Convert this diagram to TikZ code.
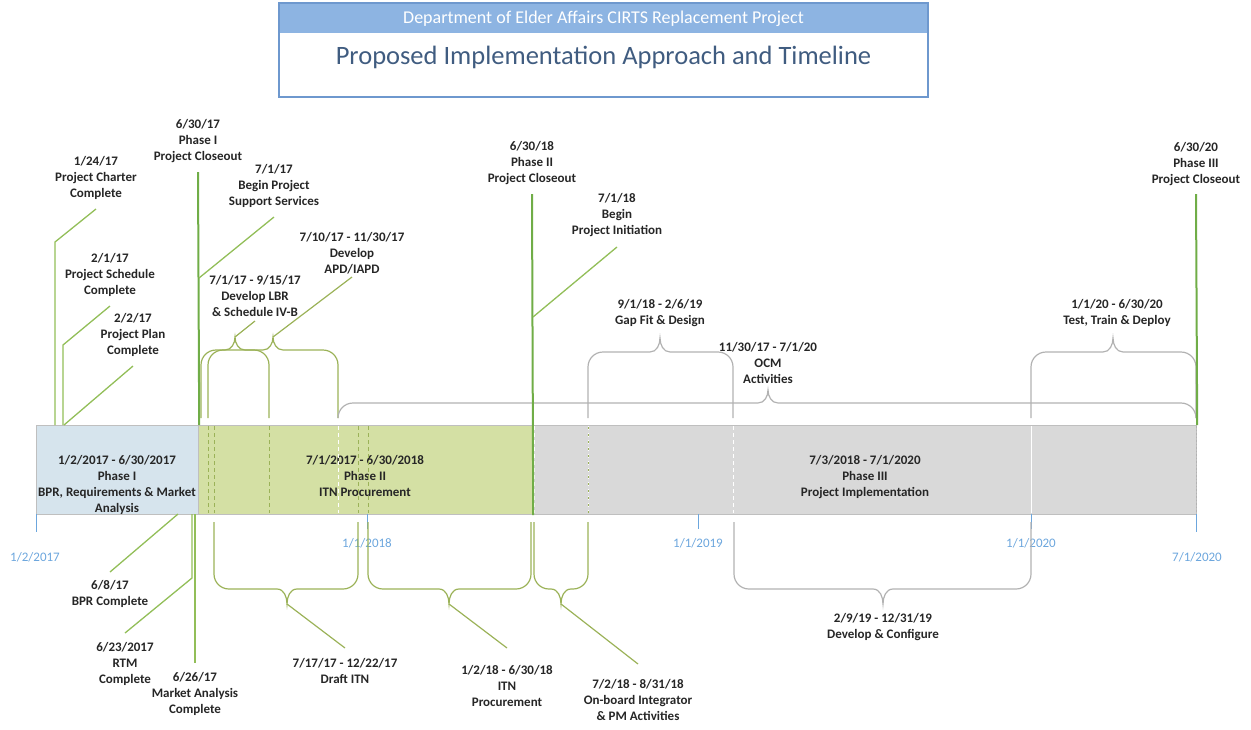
\documentclass[tikz,border=0pt]{standalone}
\usepackage{fontspec}
\setmainfont{Carlito}
\usetikzlibrary{positioning}
\definecolor{calloutgreen}{RGB}{146,190,88}
\definecolor{closegreen}{RGB}{112,173,71}
\definecolor{bracegreen}{RGB}{155,178,88}
\definecolor{bracegray}{RGB}{178,178,178}
\definecolor{phaseblue}{RGB}{214,228,237}
\definecolor{phasegreen}{RGB}{212,224,164}
\definecolor{phasegray}{RGB}{217,217,217}
\definecolor{edgegray}{RGB}{191,191,191}
\definecolor{axisblue}{RGB}{108,166,221}
\definecolor{headblue}{RGB}{141,180,226}
\definecolor{frameblue}{RGB}{110,152,206}
\definecolor{titleblue}{RGB}{64,92,128}

\begin{document}
\begin{tikzpicture}[
    x=1pt,y=-1pt,
    lbl/.style={align=center,inner sep=0pt,font=\fontsize{13}{16}\selectfont\bfseries,text=black!85},
    phasebox/.style={rectangle,draw=edgegray,line width=1.2pt,minimum height=89pt,inner sep=0pt,anchor=north west},
    axislbl/.style={inner sep=0pt,font=\fontsize{13}{16}\selectfont,text=axisblue},
    axtick/.style={axisblue,line width=1pt},
    callout/.style={calloutgreen,line width=1.3pt},
    bcallout/.style={bracegreen,line width=1.2pt},
    closeout/.style={closegreen,line width=2pt},
    gbrace/.style={bracegreen,line width=1.2pt},
    sbrace/.style={bracegray,line width=1.2pt},
    gsplit/.style={bracegreen,line width=1pt,dash pattern=on 4pt off 3pt},
    wsplit/.style={white,line width=1pt,dash pattern=on 4pt off 3pt}
]
    \useasboundingbox (0,0) rectangle (1251,729);

    \node[rectangle,fill=headblue,inner sep=0pt,minimum width=647pt,minimum height=29pt,text=white,font=\fontsize{18}{20}\selectfont] (head) at (603.5,18.5) {Department of Elder Affairs CIRTS Replacement Project};
    \node[rectangle,draw=frameblue,line width=2pt,minimum width=649pt,minimum height=94pt] (frame) at (603.5,50) {};
    \node[text=titleblue,font=\fontsize{26.5}{30}\selectfont] (title) at (603.5,57) {Proposed Implementation Approach and Timeline};

    \node[phasebox,fill=phaseblue,minimum width=162pt] (ph1) at (36,425) {};
    \node[phasebox,fill=phasegreen,minimum width=334pt] (ph2) at (198,425) {};
    \node[phasebox,fill=phasegray,minimum width=664pt] (ph3) at (532,425) {};

    \node[lbl,anchor=north] (ph1txt) at (117,455) {1/2/2017 - 6/30/2017\\Phase I\\BPR, Requirements \& Market\\Analysis};
    \node[lbl,anchor=north] (ph2txt) at (365,455) {7/1/2017 - 6/30/2018\\Phase II\\ITN Procurement};
    \node[lbl,anchor=north] (ph3txt) at (865,455) {7/3/2018 - 7/1/2020\\Phase III\\Project Implementation};

    \draw[gsplit] (208,426) -- (208,513);
    \draw[gsplit] (214,426) -- (214,513);
    \draw[gsplit] (269,426) -- (269,513);
    \draw[wsplit] (338,426) -- (338,513);
    \draw[gsplit] (358,426) -- (358,513);
    \draw[gsplit] (368,426) -- (368,513);
    \draw[wsplit] (534,426) -- (534,513);
    \draw[wsplit] (588,426) -- (588,513);
    \draw[bracegreen,line width=1pt,dash pattern=on 1.5pt off 5.5pt] (588,427) -- (588,513);
    \draw[wsplit] (733,426) -- (733,513);
    \draw[white,line width=1pt] (1031,426) -- (1031,513);
    \draw[bracegray,line width=1pt,dash pattern=on 1.5pt off 2pt] (1196,426) -- (1196,513);

    \draw[axtick] (36,514) -- (36,532);
    \draw[axtick] (367,514) -- (367,529);
    \draw[axtick] (698,514) -- (698,529);
    \draw[axtick] (1031,514) -- (1031,529);
    \draw[axtick] (1196,514) -- (1196,532);
    \node[axislbl] (d17) at (35,557) {1/2/2017};
    \node[axislbl] (d18) at (367,543) {1/1/2018};
    \node[axislbl] (d19) at (698,543) {1/1/2019};
    \node[axislbl] (d20) at (1031,543) {1/1/2020};
    \node[axislbl] (d20b) at (1197,557) {7/1/2020};

    \draw[gbrace] (201,418) -- (201,365) to[out=90,in=180] (216,350) -- (225,350) to[out=0,in=-90] (235,337) coordinate (lbr-at) to[out=-90,in=180] (245,350) -- (254,350) to[out=0,in=90] (269,365) -- (269,418);
    \draw[gbrace] (208,418) -- (208,365) to[out=90,in=180] (223,350) -- (263,350) to[out=0,in=-90] (273,337) coordinate (apd-at) to[out=-90,in=180] (283,350) -- (323,350) to[out=0,in=90] (338,365) -- (338,418);
    \draw[sbrace] (338,418) to[out=90,in=180] (353,403) -- (758,403) to[out=0,in=-90] (768,390) coordinate (ocm-at) to[out=-90,in=180] (778,403) -- (1181,403) to[out=0,in=90] (1196,418);
    \draw[sbrace] (588,418) -- (588,367) to[out=90,in=180] (603,352) -- (650,352) to[out=0,in=-90] (660,338) coordinate (gap-at) to[out=-90,in=180] (670,352) -- (718,352) to[out=0,in=90] (733,367) -- (733,418);
    \draw[sbrace] (1031,418) -- (1031,367) to[out=90,in=180] (1046,352) -- (1103,352) to[out=0,in=-90] (1113,338) coordinate (test-at) to[out=-90,in=180] (1123,352) -- (1181,352) to[out=0,in=90] (1196,367) -- (1196,418);

    \draw[gbrace] (214,522) -- (214,574) to[out=-90,in=180] (229,589) -- (277,589) to[out=0,in=90] (287,604) coordinate (draft-at) to[out=90,in=180] (297,589) -- (343,589) to[out=0,in=-90] (358,574) -- (358,522);
    \draw[gbrace] (368,522) -- (368,574) to[out=-90,in=180] (383,589) -- (439,589) to[out=0,in=90] (449,604) coordinate (itn-at) to[out=90,in=180] (459,589) -- (516,589) to[out=0,in=-90] (531,574) -- (531,522);
    \draw[gbrace] (534,522) -- (534,574) to[out=-90,in=180] (549,589) -- (551,589) to[out=0,in=90] (561,604) coordinate (onb-at) to[out=90,in=180] (571,589) -- (573,589) to[out=0,in=-90] (588,574) -- (588,522);
    \draw[sbrace] (734,522) -- (734,574) to[out=-90,in=180] (749,589) -- (873,589) to[out=0,in=90] (883,604) coordinate (dev-at) to[out=90,in=180] (893,589) -- (1016,589) to[out=0,in=-90] (1031,574) -- (1031,522);

    \coordinate (charter-end) at (96,209);
    \node[lbl,above=9pt of charter-end] (charter) {1/24/17\\Project Charter\\Complete};
    \draw[callout] (55,425) coordinate (charter-at) -- (55,242) -- (charter-end);

    \coordinate (sched-end) at (110,306);
    \node[lbl,above=9pt of sched-end] (sched) {2/1/17\\Project Schedule\\Complete};
    \draw[callout] (63,425) coordinate (sched-at) -- (63,345) -- (sched-end);

    \coordinate (plan-end) at (133,366);
    \node[lbl,above=9pt of plan-end] (plan) {2/2/17\\Project Plan\\Complete};
    \draw[callout] (64,425) coordinate (plan-at) -- (plan-end);

    \coordinate (close1-end) at (198,172);
    \node[lbl,above=9pt of close1-end] (close1) {6/30/17\\Phase I\\Project Closeout};
    \draw[closeout] (ph1.north east) -- (close1-end);

    \coordinate (support-end) at (274,217);
    \node[lbl,above=9pt of support-end] (support) {7/1/17\\Begin Project\\Support Services};
    \draw[callout] (199,278) coordinate (support-at) -- (support-end);

    \coordinate (lbr-end) at (255,321);
    \node[lbl,above=4pt of lbr-end] (lbr) {7/1/17 - 9/15/17\\Develop LBR\\\& Schedule IV-B};
    \draw[bcallout] (lbr-at) -- (lbr-end);

    \coordinate (apd-end) at (352,277);
    \node[lbl,above=2.5pt of apd-end] (apd) {7/10/17 - 11/30/17\\Develop\\APD/IAPD};
    \draw[bcallout] (apd-at) -- (apd-end);

    \coordinate (close2-end) at (532,194);
    \node[lbl,above=9pt of close2-end] (close2) {6/30/18\\Phase II\\Project Closeout};
    \draw[closeout] (ph2.south east) -- (close2-end);

    \coordinate (init-end) at (617,247);
    \node[lbl,above=10pt of init-end] (init) {7/1/18\\Begin\\Project Initiation};
    \draw[callout] (533,317) coordinate (init-at) -- (init-end);

    \node[lbl,above=11pt of gap-at] (gap) {9/1/18 - 2/6/19\\Gap Fit \& Design};
    \node[lbl,above=6pt of ocm-at] (ocm) {11/30/17 - 7/1/20\\OCM\\Activities};
    \node[lbl,above=11pt of test-at,xshift=4pt] (test) {1/1/20 - 6/30/20\\Test, Train \& Deploy};

    \coordinate (close3-end) at (1196,194);
    \node[lbl,above=8pt of close3-end] (close3) {6/30/20\\Phase III\\Project Closeout};
    \draw[closeout] (ph3.north east) -- (close3-end);

    \coordinate (bpr-end) at (110,572);
    \node[lbl,below=8pt of bpr-end] (bpr) {6/8/17\\BPR Complete};
    \draw[callout] (178,514) coordinate (bpr-at) -- (bpr-end);

    \coordinate (rtm-end) at (125,633);
    \node[lbl,below=9pt of rtm-end] (rtm) {6/23/2017\\RTM\\Complete};
    \draw[callout] (192,514) coordinate (rtm-at) -- (192,578) -- (rtm-end);

    \coordinate (market-end) at (195,663);
    \node[lbl,below=9pt of market-end] (market) {6/26/17\\Market Analysis\\Complete};
    \draw[callout] (195,514) coordinate (market-at) -- (market-end);

    \coordinate (draft-end) at (345,648);
    \node[lbl,below=10pt of draft-end] (draft) {7/17/17 - 12/22/17\\Draft ITN};
    \draw[bcallout] (draft-at) -- (draft-end);

    \coordinate (itn-end) at (507,648);
    \node[lbl,below=17pt of itn-end] (itn) {1/2/18 - 6/30/18\\ITN\\Procurement};
    \draw[bcallout] (itn-at) -- (itn-end);

    \coordinate (onb-end) at (638,664);
    \node[lbl,below=15pt of onb-end] (onb) {7/2/18 - 8/31/18\\On-board Integrator\\\& PM Activities};
    \draw[bcallout] (onb-at) -- (onb-end);

    \node[lbl,below=9pt of dev-at] (dev) {2/9/19 - 12/31/19\\Develop \& Configure};
\end{tikzpicture}
\end{document}
